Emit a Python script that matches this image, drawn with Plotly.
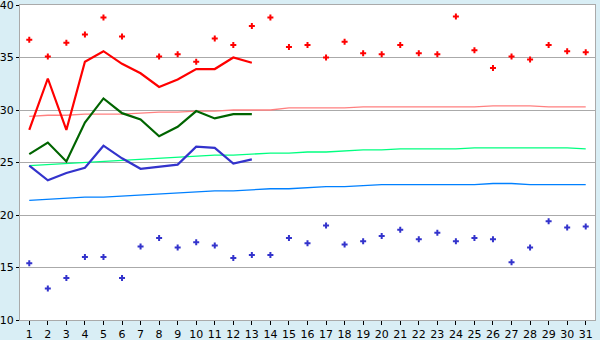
import plotly.graph_objects as go

days = list(range(1, 32))

# observed daily max (red markers) and min (blue markers)
obs_max = [36.7, 35.1, 36.4, 37.2, 38.8, 37.0, None, 35.1, 35.3, 34.6,
           36.8, 36.2, 38.0, 38.8, 36.0, 36.2, 35.0, 36.5, 35.4, 35.3,
           36.2, 35.4, 35.3, 38.9, 35.7, 34.0, 35.1, 34.8, 36.2, 35.6, 35.5]
obs_min = [15.4, 13.0, 14.0, 16.0, 16.0, 14.0, 17.0, 17.8, 16.9, 17.4,
           17.1, 15.9, 16.2, 16.2, 17.8, 17.3, 19.0, 17.2, 17.5, 18.0,
           18.6, 17.7, 18.3, 17.5, 17.8, 17.7, 15.5, 16.9, 19.4, 18.8, 18.9]

# forecast / recent lines (days 1-13)
line_days = list(range(1, 14))
line_max = [28.1, 33.0, 28.1, 34.6, 35.6, 34.4, 33.5, 32.2, 32.9, 33.9, 33.9, 35.0, 34.5]
line_mean = [25.8, 26.9, 25.1, 28.8, 31.1, 29.7, 29.1, 27.5, 28.4, 29.9, 29.2, 29.6, 29.6]
line_min = [24.7, 23.3, 24.0, 24.5, 26.6, 25.4, 24.4, 24.6, 24.8, 26.5, 26.4, 24.9, 25.3]

# normals
norm_max = [29.4, 29.5, 29.5, 29.6, 29.6, 29.6, 29.7, 29.8, 29.8, 29.9,
            29.9, 30.0, 30.0, 30.0, 30.2, 30.2, 30.2, 30.2, 30.3, 30.3,
            30.3, 30.3, 30.3, 30.3, 30.3, 30.4, 30.4, 30.4, 30.3, 30.3, 30.3]
norm_mean = [24.7, 24.8, 24.9, 25.0, 25.1, 25.2, 25.3, 25.4, 25.5, 25.6,
             25.7, 25.7, 25.8, 25.9, 25.9, 26.0, 26.0, 26.1, 26.2, 26.2,
             26.3, 26.3, 26.3, 26.3, 26.4, 26.4, 26.4, 26.4, 26.4, 26.4, 26.3]
norm_min = [21.4, 21.5, 21.6, 21.7, 21.7, 21.8, 21.9, 22.0, 22.1, 22.2,
            22.3, 22.3, 22.4, 22.5, 22.5, 22.6, 22.7, 22.7, 22.8, 22.9,
            22.9, 22.9, 22.9, 22.9, 22.9, 23.0, 23.0, 22.9, 22.9, 22.9, 22.9]

y_ticks = [10, 15, 20, 25, 30, 35, 40]

fig = go.Figure()

fig.add_trace(go.Scatter(x=days, y=norm_max, mode="lines", line=dict(color="#FF8080", width=1.3), hoverinfo="skip"))
fig.add_trace(go.Scatter(x=days, y=norm_mean, mode="lines", line=dict(color="#00FF80", width=1.3), hoverinfo="skip"))
fig.add_trace(go.Scatter(x=days, y=norm_min, mode="lines", line=dict(color="#0080FF", width=1.3), hoverinfo="skip"))

fig.add_trace(go.Scatter(x=line_days, y=line_max, mode="lines", line=dict(color="#FF0000", width=2.2)))
fig.add_trace(go.Scatter(x=line_days, y=line_mean, mode="lines", line=dict(color="#006400", width=2.2)))
fig.add_trace(go.Scatter(x=line_days, y=line_min, mode="lines", line=dict(color="#3333CC", width=2.2)))

fig.add_trace(go.Scatter(x=days, y=obs_max, mode="markers",
                         marker=dict(symbol="cross", size=5, color="#FF0000", line=dict(width=0))))
fig.add_trace(go.Scatter(x=days, y=obs_min, mode="markers",
                         marker=dict(symbol="cross", size=5, color="#3333CC", line=dict(width=0))))

fig.update_layout(
    width=600, height=340,
    margin=dict(l=20, r=5, t=5, b=20, autoexpand=False),
    paper_bgcolor="#D9EEF5",
    plot_bgcolor="#FFFFFF",
    showlegend=False,
    font=dict(family="DejaVu Sans", size=11, color="#000000"),
)
fig.update_xaxes(
    range=[0.5, 31.5], tickmode="array", tickvals=days, ticktext=[str(d) for d in days],
    showgrid=False, zeroline=False, automargin=False,
    showline=True, linecolor="#AAAAAA", linewidth=1, mirror=True,
    ticks="outside", ticklen=4, tickcolor="#000000", tickwidth=1,
    ticklabeloverflow="allow",
)
fig.update_yaxes(
    range=[10, 40], tickmode="array", tickvals=y_ticks, ticktext=[str(v) for v in y_ticks],
    showgrid=True, gridcolor="#AAAAAA", gridwidth=1, zeroline=False, automargin=False,
    showline=True, linecolor="#AAAAAA", linewidth=1, mirror=True,
    ticks="outside", ticklen=3, tickcolor="#000000", tickwidth=1,
    ticklabeloverflow="allow",
)

fig.write_html("out.html")
